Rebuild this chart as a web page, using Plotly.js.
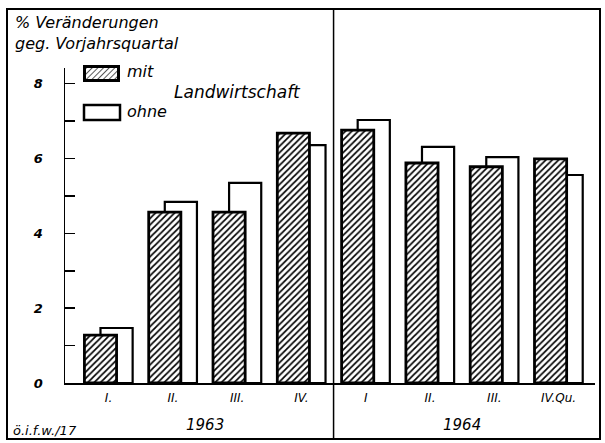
<!DOCTYPE html>
<html><head><meta charset="utf-8">
<script src="https://cdn.plot.ly/plotly-3.0.1.min.js"></script>
<style>html,body{margin:0;padding:0;background:#fff}#c{width:605px;height:443px}</style>
</head><body><div id="c"></div>
<script>
// Data
const quarters = ["I.", "II.", "III.", "IV.", "I", "II.", "III.", "IV.Qu."];
const years = ["1963", "1964"];
const mitLandwirtschaft = [1.28, 4.57, 4.57, 6.68, 6.76, 5.88, 5.78, 5.99];
const ohneLandwirtschaft = [1.47, 4.84, 5.35, 6.36, 7.03, 6.31, 6.04, 5.56];
const yTickVals = [0, 1, 2, 3, 4, 5, 6, 7, 8];
const yTickText = ["0", "", "2", "", "4", "", "6", "", "8"];

const xIdx = quarters.map((q, i) => i);
const L = 65, R = 10, T = 68, B = 60, W = 605, H = 443;
const pw = W - L - R, ph = H - T - B;
const px = v => (v - L) / pw;
const py = v => (H - B - v) / ph;
const fontFam = "DejaVu Sans, Liberation Sans, sans-serif";

const traces = [
  {type: "bar", name: "ohne", x: xIdx, y: ohneLandwirtschaft, width: 0.5, offset: -0.125,
   marker: {color: "#ffffff", line: {color: "#000", width: 2.2}}, hoverinfo: "y"},
  {type: "bar", name: "mit", x: xIdx, y: mitLandwirtschaft, width: 0.5, offset: -0.375,
   marker: {color: "#ffffff", line: {color: "#000", width: 2.8},
            pattern: {shape: "/", fgcolor: "#000", bgcolor: "#fff", size: 4.5, solidity: 0.38}}, hoverinfo: "y"}
];

const hatchSvg = "<svg xmlns='http://www.w3.org/2000/svg' width='37' height='17'><defs><pattern id='p' width='4' height='4' patternUnits='userSpaceOnUse' patternTransform='rotate(45)'><line x1='0' y1='0' x2='0' y2='4' stroke='black' stroke-width='1.3'/></pattern></defs><rect x='1.5' y='1.5' width='34' height='14' fill='url(#p)' stroke='black' stroke-width='3'/></svg>";

const layout = {
  width: W, height: H,
  margin: {l: L, r: R, t: T, b: B},
  paper_bgcolor: "#fff", plot_bgcolor: "#fff",
  barmode: "overlay",
  showlegend: false,
  font: {family: fontFam, color: "#000"},
  xaxis: {
    range: [-0.677, 7.566], tickvals: xIdx, ticktext: quarters,
    showgrid: false, zeroline: false, showline: true, linecolor: "#000", linewidth: 2,
    ticks: "", ticklabelstandoff: 3,
    tickfont: {size: 12, style: "italic", family: fontFam}
  },
  yaxis: {
    range: [0, 8.42], tickvals: yTickVals, ticktext: yTickText,
    showgrid: false, zeroline: false, showline: true, linecolor: "#000", linewidth: 1.5,
    ticks: "inside", ticklen: 10, tickwidth: 1.5, tickcolor: "#000",
    ticklabelstandoff: 18,
    tickfont: {size: 13, style: "italic", weight: "bold", family: fontFam}
  },
  shapes: [
    {type: "rect", xref: "paper", yref: "paper", x0: px(7), x1: px(600), y0: py(439), y1: py(9),
     line: {color: "#000", width: 2}},
    {type: "line", xref: "x", yref: "paper", x0: 3.5, x1: 3.5, y0: py(439), y1: py(9),
     line: {color: "#000", width: 1.5}},
    {type: "rect", xref: "paper", yref: "paper", x0: px(84), x1: px(120), y0: py(120), y1: py(105),
     line: {color: "#000", width: 2.5}, fillcolor: "#fff"}
  ],
  images: [
    {source: "data:image/svg+xml;charset=utf-8," + encodeURIComponent(hatchSvg),
     xref: "paper", yref: "paper", x: px(83), y: py(65), sizex: 37 / pw, sizey: 17 / ph,
     xanchor: "left", yanchor: "top", sizing: "stretch", layer: "above"}
  ],
  annotations: [
    {text: "% Veränderungen", xref: "paper", yref: "paper", x: px(13), y: py(22), xanchor: "left", yanchor: "middle",
     showarrow: false, font: {size: 16, style: "italic", family: fontFam}},
    {text: "geg. Vorjahrsquartal", xref: "paper", yref: "paper", x: px(13), y: py(43), xanchor: "left", yanchor: "middle",
     showarrow: false, font: {size: 16, style: "italic", family: fontFam}},
    {text: "mit", xref: "paper", yref: "paper", x: px(125), y: py(72), xanchor: "left", yanchor: "middle",
     showarrow: false, font: {size: 16, style: "italic", family: fontFam}},
    {text: "ohne", xref: "paper", yref: "paper", x: px(125), y: py(112), xanchor: "left", yanchor: "middle",
     showarrow: false, font: {size: 16, style: "italic", family: fontFam}},
    {text: "Landwirtschaft", xref: "paper", yref: "paper", x: px(172), y: py(92), xanchor: "left", yanchor: "middle",
     showarrow: false, font: {size: 17, style: "italic", family: fontFam}},
    {text: years[0], xref: "x", yref: "paper", x: 1.5, y: py(425), xanchor: "center", yanchor: "middle",
     showarrow: false, font: {size: 15, style: "italic", family: fontFam}},
    {text: years[1], xref: "x", yref: "paper", x: 5.5, y: py(425), xanchor: "center", yanchor: "middle",
     showarrow: false, font: {size: 15, style: "italic", family: fontFam}},
    {text: "ö.i.f.w./17", xref: "paper", yref: "paper", x: px(11), y: py(431), xanchor: "left", yanchor: "middle",
     showarrow: false, font: {size: 13, style: "italic", family: fontFam}}
  ]
};

Plotly.newPlot("c", traces, layout, {staticPlot: true, displayModeBar: false});
</script>
</body></html>
